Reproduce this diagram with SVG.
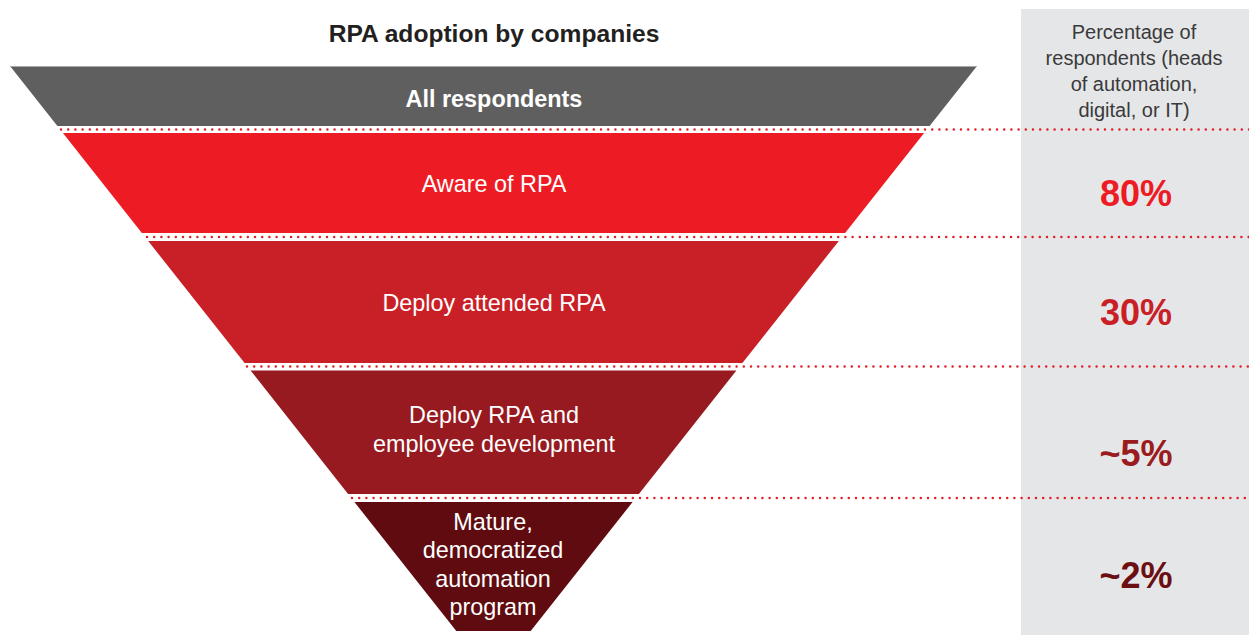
<svg xmlns="http://www.w3.org/2000/svg" width="1249" height="635" viewBox="0 0 1249 635">
<style>
.t{font-family:"Liberation Sans",Arial,sans-serif;text-anchor:middle}
.w{fill:#ffffff;font-size:23.4px}
.b{font-weight:bold}
.hd{fill:#3a3a3a;font-size:20px}
.pct{font-size:36px;font-weight:bold}
.dot{stroke:#e31e24;stroke-width:2.5;stroke-linecap:round;stroke-dasharray:0 7.2;fill:none}
</style>
<rect width="1249" height="635" fill="#ffffff"/>
<g id="panel">
<rect x="1021" y="9" width="228" height="626" fill="#e5e6e8"/>
<text class="t hd" x="1134" y="39">Percentage of</text>
<text class="t hd" x="1134" y="65">respondents (heads</text>
<text class="t hd" x="1134" y="91">of automation,</text>
<text class="t hd" x="1134" y="117">digital, or IT)</text>
</g>
<text id="title" class="t b" x="494" y="42" font-size="24.6" fill="#231f20">RPA adoption by companies</text>
<g id="band-all">
<polygon points="10,66 977,66 929.6,126 57.4,126" fill="#5f5f5f"/>
<line x1="10" y1="66.5" x2="977" y2="66.5" stroke="#a8a8a8" stroke-width="1"/>
<text class="t w b" x="494" y="107">All respondents</text>
</g>
<g id="band-aware">
<polygon points="62.9,133 924.1,133 845.1,233 141.9,233" fill="#ed1c24"/>
<text class="t w" x="494" y="192">Aware of RPA</text>
<text class="t pct" x="1136" y="206" fill="#ed1c24">80%</text>
</g>
<g id="band-attended">
<polygon points="148.2,241 838.8,241 742.4,363 244.6,363" fill="#c91f26"/>
<text class="t w" x="494" y="311">Deploy attended RPA</text>
<text class="t pct" x="1136" y="325" fill="#c91f26">30%</text>
</g>
<g id="band-employee">
<polygon points="250.6,370.5 736.4,370.5 638.9,494 348.1,494" fill="#961a1f"/>
<text class="t w" x="494" y="423">Deploy RPA and</text>
<text class="t w" x="494" y="452">employee development</text>
<text class="t pct" x="1136" y="466" fill="#9a1b20">~5%</text>
</g>
<g id="band-mature">
<polygon points="354.4,502 632.6,502 530.7,631 456.3,631" fill="#5f0b0f"/>
<text class="t w" x="493" y="530">Mature,</text>
<text class="t w" x="493" y="558">democratized</text>
<text class="t w" x="493" y="587">automation</text>
<text class="t w" x="493" y="615">program</text>
<text class="t pct" x="1136" y="588" fill="#6b0f13">~2%</text>
</g>
<g id="connectors">
<line class="dot" x1="61" y1="129.5" x2="1249" y2="129.5"/>
<line class="dot" x1="147" y1="237" x2="1249" y2="237"/>
<line class="dot" x1="247" y1="366.5" x2="1249" y2="366.5"/>
<line class="dot" x1="352" y1="498" x2="1249" y2="498"/>
</g>
</svg>
